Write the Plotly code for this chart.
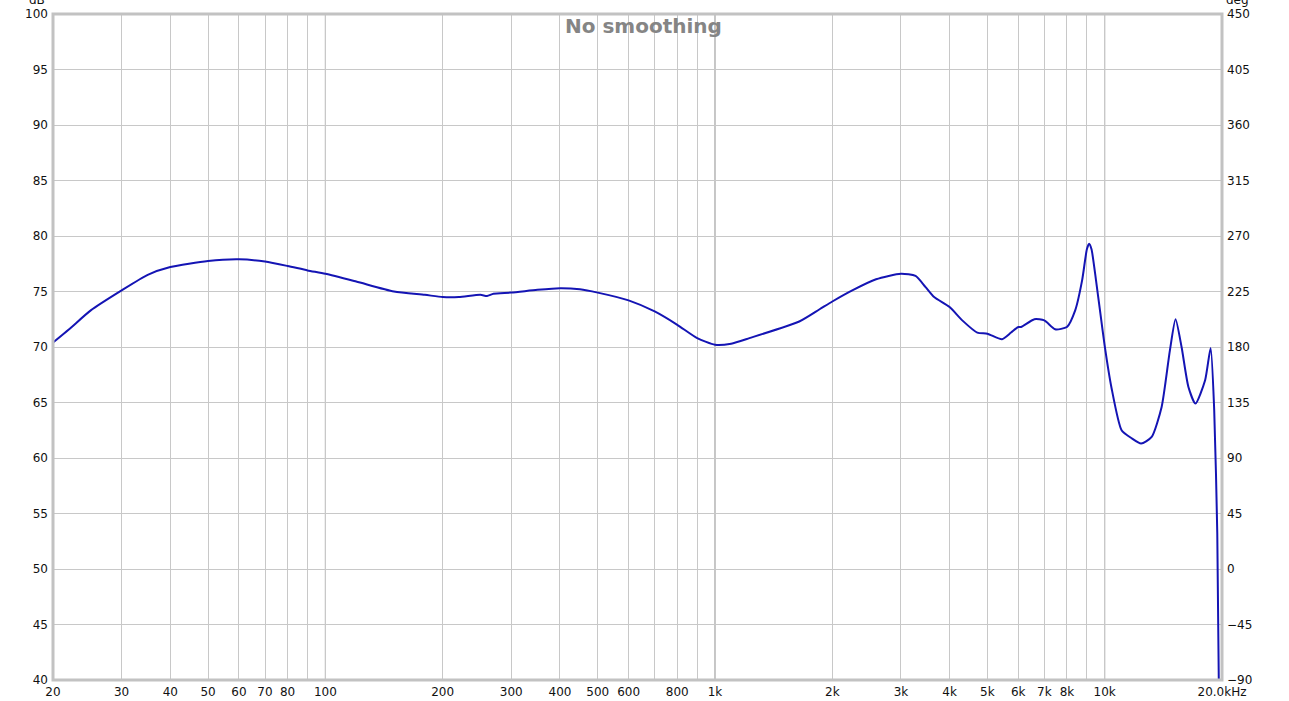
import plotly.graph_objects as go

# Frequency response (Hz, dB)
freq_hz = [20, 22, 25, 30, 35, 40, 50, 60, 70, 80, 90, 100, 120, 150, 180, 200, 220,
           250, 260, 270, 300, 350, 400, 450, 500, 600, 700, 800, 900, 1000, 1100,
           1225, 1645, 1855, 2000, 2250, 2590, 3000, 3270, 3470, 3650, 4000, 4310,
           4710, 5000, 5450, 5750, 6000, 6100, 6600, 7000, 7460, 8000, 8400, 8750,
           9000, 9120, 9250, 9500, 9750, 10000, 10400, 11050, 11700, 12400, 13200,
           14000, 14700, 15200, 15750, 16400, 17100, 18100, 18700, 19100, 19450, 19650]
spl_db = [70.4, 71.6, 73.3, 75.1, 76.5, 77.2, 77.75, 77.9, 77.7, 77.3, 76.9, 76.6, 75.9,
          75.0, 74.7, 74.5, 74.5, 74.7, 74.6, 74.8, 74.9, 75.15, 75.3, 75.2, 74.9, 74.2,
          73.2, 72.0, 70.8, 70.2, 70.3, 70.8, 72.3, 73.4, 74.1, 75.1, 76.1, 76.6, 76.4,
          75.4, 74.5, 73.6, 72.4, 71.3, 71.2, 70.7, 71.3, 71.8, 71.8, 72.5, 72.4, 71.6,
          71.8, 73.3, 76.0, 78.8, 79.3, 78.8, 76.0, 73.0, 70.1, 66.4, 62.5, 61.8, 61.3,
          61.9, 64.6, 69.7, 72.5, 70.0, 66.4, 64.9, 67.0, 69.9, 64.3, 53.2, 38.0]

x_tick_vals = [20, 30, 40, 50, 60, 70, 80, 90, 100, 200, 300, 400, 500, 600, 700, 800, 900,
               1000, 2000, 3000, 4000, 5000, 6000, 7000, 8000, 9000, 10000, 20000]
x_tick_text = ["20", "30", "40", "50", "60", "70", "80", "", "100", "200", "300", "400",
               "500", "600", "", "800", "", "1k", "2k", "3k", "4k", "5k", "6k", "7k", "8k",
               "", "10k", "20.0kHz"]
decades = [100, 1000, 10000]
db_range = [40, 100]
deg_range = [-90, 450]

FONT = "DejaVu Sans"

fig = go.Figure()
fig.add_trace(go.Scatter(x=freq_hz, y=spl_db, mode="lines",
                         line=dict(color="#1414b4", width=2, shape="spline", smoothing=0.6),
                         showlegend=False, hoverinfo="x+y"))
fig.add_trace(go.Scatter(x=[None], y=[None], yaxis="y2", showlegend=False, hoverinfo="skip"))

for d in decades:
    fig.add_shape(type="line", xref="x", yref="paper", x0=d, x1=d, y0=0, y1=1,
                  line=dict(color="#8a8a8a", width=1), layer="below")

fig.add_shape(type="rect", xref="paper", yref="paper", x0=0, x1=1, y0=0, y1=1,
              line=dict(color="#c2c2c2", width=3), layer="above")

fig.add_annotation(text="No smoothing", xref="paper", yref="paper", x=0.505, y=1,
                   yanchor="top", yshift=2, showarrow=False,
                   font=dict(family=FONT, size=20, color="#858585", weight="bold"))
fig.add_annotation(text="dB", xref="paper", yref="paper", x=0, y=1, xanchor="right",
                   yanchor="bottom", xshift=-6, yshift=5, showarrow=False,
                   font=dict(family=FONT, size=12, color="#111"))
fig.add_annotation(text="deg", xref="paper", yref="paper", x=1, y=1, xanchor="left",
                   yanchor="bottom", xshift=2, yshift=5, showarrow=False,
                   font=dict(family=FONT, size=12, color="#111"))

fig.update_layout(
    width=1289, height=701,
    margin=dict(l=53, r=67, t=14, b=21),
    paper_bgcolor="white", plot_bgcolor="white",
    font=dict(family=FONT, size=12, color="#111"),
    xaxis=dict(type="log", range=[1.30103, 4.30103], tickvals=x_tick_vals,
               ticktext=x_tick_text, showgrid=True, gridcolor="#c8c8c8", gridwidth=1,
               zeroline=False, ticks="", showline=False, ticklabelstandoff=3,
               automargin=False),
    yaxis=dict(range=db_range, dtick=5, showgrid=True, gridcolor="#c8c8c8",
               zeroline=False, ticks="", showline=False, ticklabelstandoff=4,
               automargin=False),
    yaxis2=dict(range=deg_range, dtick=45, overlaying="y", side="right",
                showgrid=False, zeroline=False, ticks="", showline=False,
                ticklabelstandoff=4, automargin=False),
)

fig.write_html("out.html", config={"displayModeBar": False},
               post_script="document.body.style.margin='0';document.body.style.overflow='hidden';")
